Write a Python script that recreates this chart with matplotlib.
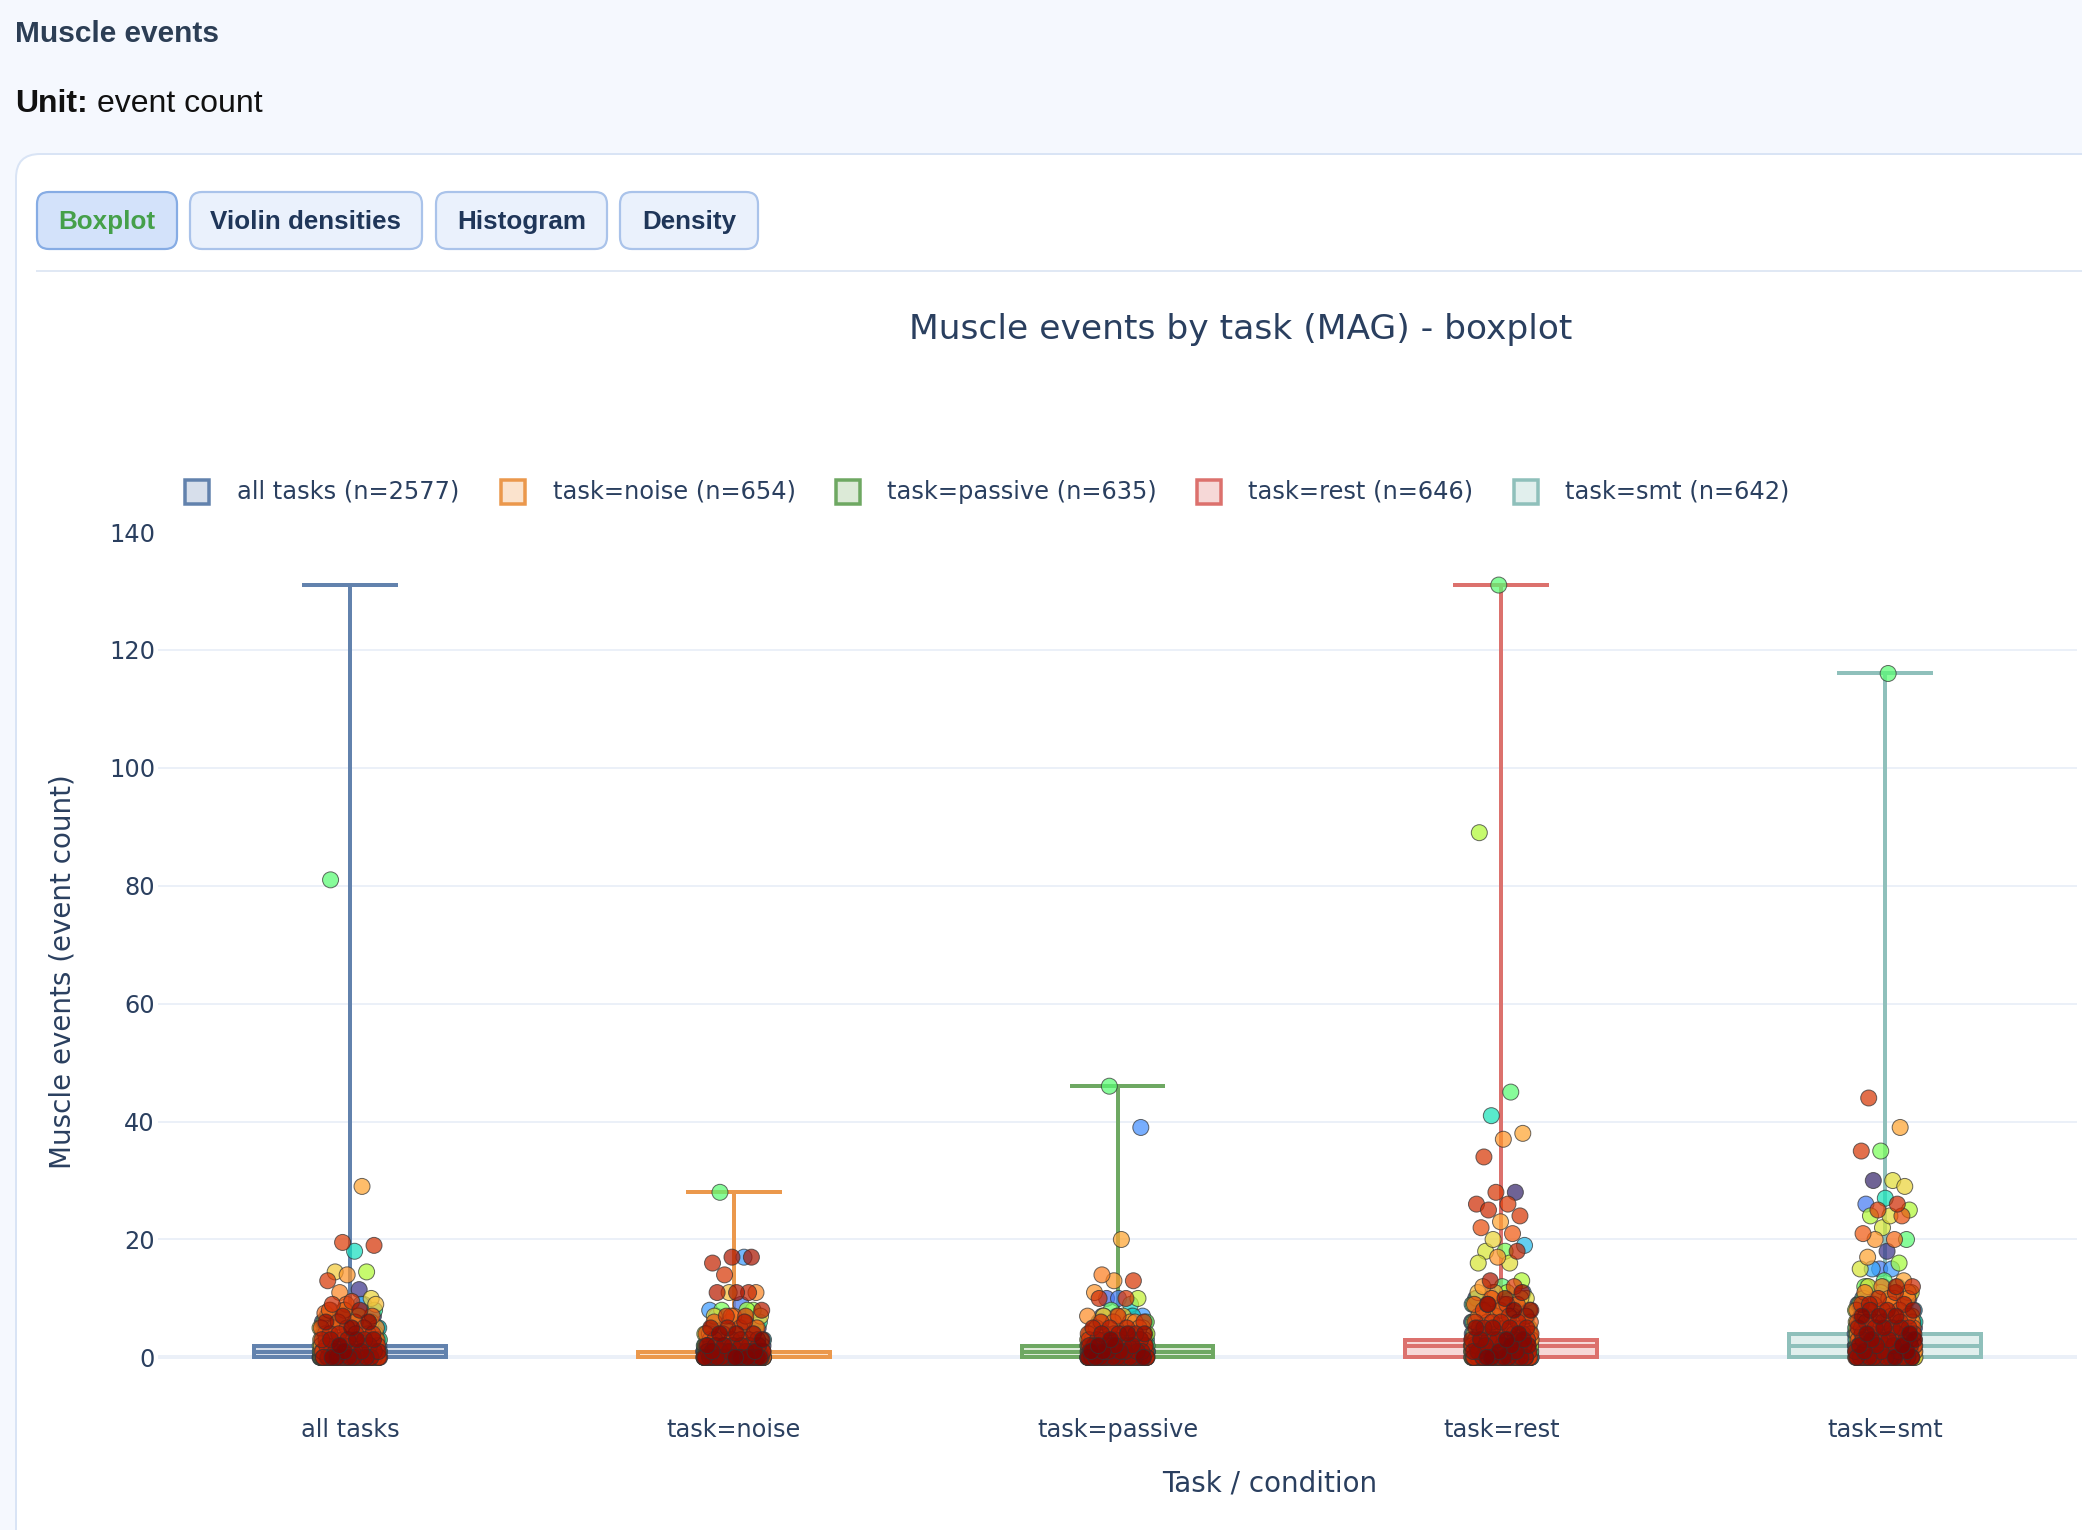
import numpy as np
import matplotlib
matplotlib.use("Agg")
import matplotlib.pyplot as plt
from matplotlib.patches import FancyBboxPatch, Rectangle
from matplotlib.transforms import IdentityTransform
from matplotlib.lines import Line2D

# ---------------- data ----------------
categories = ["all tasks", "task=noise", "task=passive", "task=rest", "task=smt"]
n_per_group = [2577, 654, 635, 646, 642]

box_q1 = [0, 0, 0, 0, 0]
box_median = [1, 0, 1, 2, 2]
box_q3 = [2, 1, 2, 3, 4]
box_min = [0, 0, 0, 0, 0]
box_max = [131, 28, 46, 131, 116]

# dense low-value points: number of points at value 0, 1, 2, ...
low_counts_all = [130, 85, 60, 42, 30, 20, 14, 9, 6, 3]
low_counts_noise = [340, 150, 65, 35, 20, 12, 7, 4, 2]
low_counts_passive = [222, 152, 110, 60, 35, 20, 11, 7]
low_counts_rest = [142, 110, 100, 100, 45, 35, 25, 18, 14, 10, 7, 5]
low_counts_smt = [144, 100, 85, 65, 55, 45, 32, 24, 18, 14, 10, 8, 6]

# scattered higher points: value and colour position on the turbo scale
upper_vals_all = [81, 29, 19.5, 19, 18, 14.5, 14.5, 14, 13, 11.5, 11, 10, 9.5, 9, 9, 8, 7.5]
upper_cols_all = [0.42, 0.70, 0.85, 0.87, 0.32, 0.64, 0.52, 0.72, 0.86, 0.05, 0.74, 0.62, 0.86, 0.88, 0.15, 0.80, 0.78]

upper_vals_noise = [28, 17, 17, 16, 17, 14, 11, 11, 11, 11, 11, 8, 9, 8, 8, 7, 7, 7, 7]
upper_cols_noise = [0.42, 0.94, 0.93, 0.90, 0.20, 0.86, 0.74, 0.94, 0.92, 0.90, 0.66, 0.20, 0.15, 0.45, 0.48, 0.75, 0.62, 0.85, 0.88]

upper_vals_passive = [46, 39, 20, 14, 13, 13, 11, 10, 10, 10, 10, 10, 9, 8, 7, 7, 7, 6]
upper_cols_passive = [0.42, 0.18, 0.70, 0.75, 0.86, 0.72, 0.72, 0.86, 0.12, 0.55, 0.15, 0.88, 0.30, 0.43, 0.20, 0.62, 0.68, 0.75]

upper_vals_rest = [131, 89, 45, 41, 38, 37, 34, 28, 28, 26, 26, 25, 24, 23, 22, 21, 20, 19,
                   18, 18, 18, 17, 16, 16, 13, 13, 12, 12, 12, 11, 10, 9, 9, 9, 8]
upper_cols_rest = [0.42, 0.52, 0.42, 0.33, 0.70, 0.72, 0.86, 0.03, 0.86, 0.88, 0.85, 0.88, 0.86, 0.70,
                   0.82, 0.80, 0.62, 0.25, 0.45, 0.58, 0.90, 0.72, 0.58, 0.60, 0.93, 0.52, 0.42, 0.72,
                   0.85, 0.70, 0.60, 0.85, 0.88, 0.20, 0.45]

upper_vals_smt = [116, 44, 39, 35, 35, 30, 30, 29, 27, 26, 26, 25, 25, 24, 24, 24, 22, 21,
                  20, 20, 20, 18, 17, 16, 15, 15, 15, 15, 13, 13, 12, 12, 11, 11, 10, 9]
upper_cols_smt = [0.42, 0.86, 0.70, 0.45, 0.86, 0.60, 0.03, 0.62, 0.33, 0.15, 0.88, 0.85, 0.52,
                  0.60, 0.52, 0.82, 0.58, 0.80, 0.78, 0.72, 0.42, 0.05, 0.70, 0.50, 0.15, 0.58,
                  0.20, 0.22, 0.70, 0.42, 0.45, 0.93, 0.18, 0.72, 0.75, 0.93]

low_counts = [low_counts_all, low_counts_noise, low_counts_passive, low_counts_rest, low_counts_smt]
upper_vals = [upper_vals_all, upper_vals_noise, upper_vals_passive, upper_vals_rest, upper_vals_smt]
upper_cols = [upper_cols_all, upper_cols_noise, upper_cols_passive, upper_cols_rest, upper_cols_smt]

# ---------------- style ----------------
line_colors = ["#6282ad", "#eb984c", "#6ea862", "#dc716d", "#8fc0bb"]
fill_colors = ["#d7dfeb", "#fbe3cd", "#dcead7", "#f6d8d7", "#e1efed"]
TXT = "#2a3f5f"
GRID = "#ebf0f8"
W, H = 2082, 1530
PX = 72.0 / 100.0  # points per pixel

fig = plt.figure(figsize=(W / 100, H / 100), dpi=100, facecolor="#f5f8fe")
ID = IdentityTransform()


def box_px(x0, y0, x1, y1, fc, ec, lw_px, r, z):
    p = FancyBboxPatch((x0, H - y1), x1 - x0, y1 - y0,
                       boxstyle=f"round,pad=0,rounding_size={r}",
                       facecolor=fc, edgecolor=ec, linewidth=lw_px * PX,
                       transform=ID, zorder=z)
    fig.add_artist(p)


def ftext(x, y, s, **kw):
    return fig.text(x / W, 1 - y / H, s, **kw)


# card
box_px(16, 154, 2400, 1700, "white", "#d9e4f5", 2, 24, -10)
# separator
fig.add_artist(Line2D([37, W], [H - 271, H - 271], color="#e0e8f4", lw=2 * PX,
                      transform=ID, zorder=-9))

# header texts
HF = "Liberation Sans"
ftext(15, 34, "Muscle events", family=HF, fontweight="bold", fontsize=21.5,
      color="#2c3e55", va="center", ha="left")
t_unit = ftext(15, 104, "Unit:", family=HF, fontweight="bold", fontsize=23,
               color="#111111", va="center", ha="left")
r = fig.canvas.get_renderer()
bb = t_unit.get_window_extent(renderer=r)
ftext(bb.x1 + 9, 104, "event count", family=HF, fontsize=23, color="#111111",
      va="center", ha="left")

# tabs
tabs = [("Boxplot", 37, 177, True), ("Violin densities", 190, 422, False),
        ("Histogram", 436, 607, False), ("Density", 620, 758, False)]
for label, x0, x1, active in tabs:
    if active:
        box_px(x0, 192, x1, 249, "#d3e2fa", "#86ace4", 2.2, 12, -8)
        col = "#45a04a"
    else:
        box_px(x0, 192, x1, 249, "#eaf1fc", "#aac3ea", 2.2, 12, -8)
        col = "#1f3659"
    ftext((x0 + x1) / 2, 222, label, family=HF, fontweight="bold", fontsize=18.7,
          color=col, ha="center", va="center")

# chart title
ftext(1241, 330, "Muscle events by task (MAG) - boxplot", fontsize=24.8, color=TXT,
      ha="center", va="center", family="DejaVu Sans")

# legend
leg_marker_x = [197, 513, 848, 1209, 1526]
leg_text_x = [237, 553, 887, 1248, 1565]
LEG_Y = 492
for i, cat in enumerate(categories):
    cx = leg_marker_x[i]
    fig.add_artist(Rectangle((cx - 12, H - LEG_Y - 12), 24, 24, facecolor=fill_colors[i],
                             edgecolor=line_colors[i], linewidth=3.5 * PX,
                             transform=ID, zorder=5))
    ftext(leg_text_x[i], LEG_Y, f"{cat} (n={n_per_group[i]})", fontsize=17.4, color=TXT,
          ha="left", va="center", family="DejaVu Sans")

# ---------------- axes ----------------
ax_left, ax_right, ax_top, ax_bot = 158, 2077, 532, 1414
ax = fig.add_axes([ax_left / W, 1 - ax_bot / H, (ax_right - ax_left) / W, (ax_bot - ax_top) / H])
ax.set_facecolor("white")
for s in ax.spines.values():
    s.set_visible(False)
ax.set_xlim(-0.5, 4.5)
ax.set_ylim(-9.6, 140)

yt = list(range(0, 141, 20))
ax.set_yticks(yt)
ax.set_yticklabels([str(v) for v in yt])
for v in yt[1:-1]:
    ax.axhline(v, color=GRID, lw=2 * PX, zorder=0)
ax.axhline(0, color=GRID, lw=4 * PX, zorder=0.5)

ax.set_xticks(range(len(categories)))
ax.set_xticklabels(categories)
ax.tick_params(axis="both", length=0, labelsize=17.3, labelcolor=TXT)
ax.tick_params(axis="y", pad=2.2)
ax.tick_params(axis="x", pad=3.0)
for lab in ax.get_xticklabels() + ax.get_yticklabels():
    lab.set_family("DejaVu Sans")

BW = 0.5
LW = 4 * PX
for i in range(len(categories)):
    x = i
    ax.add_patch(Rectangle((x - BW / 2, box_q1[i]), BW, box_q3[i] - box_q1[i],
                           facecolor=fill_colors[i], edgecolor=line_colors[i],
                           linewidth=LW, zorder=2))
    ax.plot([x - BW / 2, x + BW / 2], [box_median[i]] * 2, color=line_colors[i],
            lw=LW, zorder=2.1, solid_capstyle="butt")
    ax.plot([x, x], [box_q3[i], box_max[i]], color=line_colors[i], lw=LW, zorder=2,
            solid_capstyle="butt")
    ax.plot([x - BW / 4, x + BW / 4], [box_max[i]] * 2, color=line_colors[i], lw=LW,
            zorder=2, solid_capstyle="butt")
    ax.plot([x, x], [box_min[i], box_q1[i]], color=line_colors[i], lw=LW, zorder=2)

# points
JIT = 0.078
cmap = plt.get_cmap("turbo")
for i in range(len(categories)):
    counts = low_counts[i]
    vals_low = np.repeat(np.arange(len(counts), dtype=float), counts)
    k = np.arange(len(vals_low))
    jit_low = ((k * 0.7548776662 + 0.13 * i) % 1.0 - 0.5) * 2 * JIT
    col_low = (k * 0.5698402910 + 0.21 * i) % 1.0
    uv = np.asarray(upper_vals[i], dtype=float)
    k2 = np.arange(len(uv))
    jit_up = ((k2 * 0.6180339887 + 0.12 + 0.11 * i) % 1.0 - 0.5) * 2 * JIT * 0.85
    uc = np.asarray(upper_cols[i], dtype=float)
    xs = np.concatenate([i + jit_low, i + jit_up])
    ys = np.concatenate([vals_low, uv])
    cs = np.concatenate([col_low, uc])
    order = np.argsort(cs, kind="stable")
    ax.scatter(xs[order], ys[order], s=(16 * PX) ** 2, c=cmap(cs[order]), alpha=0.72,
               edgecolors=(0.2, 0.2, 0.2, 0.6), linewidths=1.0 * PX, zorder=3,
               clip_on=False)

# axis titles
ftext(63, 972, "Muscle events (event count)", rotation=90, fontsize=20, color=TXT,
      ha="center", va="center", family="DejaVu Sans")
ftext(1270, 1483, "Task / condition", fontsize=20, color=TXT, ha="center", va="center",
      family="DejaVu Sans")

fig.savefig("out.png", dpi=100, facecolor=fig.get_facecolor())
